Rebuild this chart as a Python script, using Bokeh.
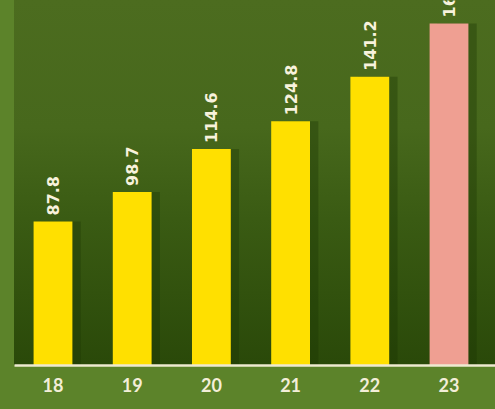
import numpy as np
from bokeh.plotting import figure
from bokeh.models import Range1d, FixedTicker, ColumnDataSource
from bokeh.core.properties import value
from bokeh.embed import file_html
from bokeh.resources import INLINE

years = ["18", "19", "20", "21", "22", "23"]
values = [87.8, 98.7, 114.6, 124.8, 141.2, 160.9]
labels = ["87.8", "98.7", "114.6", "124.8", "141.2", "160.9"]
bar_colors = ["#ffe000", "#ffe000", "#ffe000", "#ffe000", "#ffe000", "#ef9f92"]

y_min, y_max = 34.63, 169.39
x_idx = list(range(len(years)))

src = ColumnDataSource(dict(x=x_idx, top=values, lab=labels, color=bar_colors,
                            xs=[i + 0.1 for i in x_idx]))

p = figure(width=495, height=409, output_backend="svg", toolbar_location=None,
           x_range=Range1d(-0.486, 5.587), y_range=Range1d(y_min, y_max),
           min_border_left=14, min_border_right=0, min_border_top=0,
           min_border_bottom=44)
p.styles = {"background": "linear-gradient(to bottom, #4c6c1f 0%, #47681c 35%, #3a5b13 60%, #2a4909 100%) 14px 0px / 481px 365px no-repeat, #5c832a"}
p.background_fill_alpha = 0
p.border_fill_alpha = 0
p.outline_line_color = None
p.grid.visible = False
p.yaxis.visible = False

# soft shadow
p.vbar(x="xs", top="top", bottom=y_min, width=0.5, source=src,
       fill_color="#1a3304", fill_alpha=0.35, line_color=None)
p.vbar(x="x", top="top", bottom=y_min, width=0.49, source=src,
       fill_color="color", line_color=None)
p.text(x="x", y="top", text="lab", source=src, angle=np.pi / 2,
       text_align="left", text_baseline="middle", y_offset=-6,
       text_color="#f8f2dc", text_font=value("DejaVu Sans"), text_font_size="16px",
       text_font_style="bold")

ax = p.xaxis[0]
ax.ticker = FixedTicker(ticks=x_idx)
ax.major_label_overrides = {i: y for i, y in zip(x_idx, years)}
ax.axis_line_color = "#eeead0"
ax.axis_line_width = 2.5
ax.major_tick_line_color = None
ax.minor_tick_line_color = None
ax.major_label_standoff = 6
ax.major_label_text_color = "#f3eed8"
ax.major_label_text_font = "Lato"
ax.major_label_text_font_style = "bold"
ax.major_label_text_font_size = "18px"

open("out.html", "w").write(file_html(p, INLINE))
